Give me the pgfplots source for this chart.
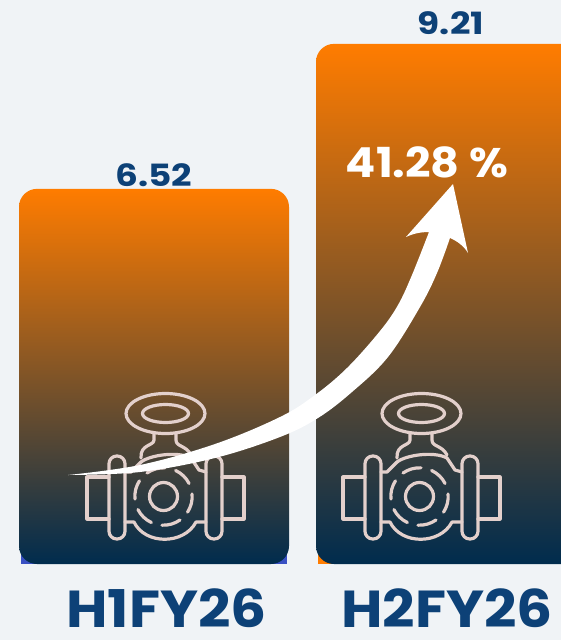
\documentclass[border=0pt]{standalone}
\usepackage{pgfplots}
\usepackage{fontspec}
\setmainfont{Poppins}
\pgfplotsset{compat=1.18}
\definecolor{bgc}{HTML}{F0F3F6}
\definecolor{navy}{HTML}{0D4177}
\definecolor{topc}{HTML}{FF7C00}
\definecolor{botc}{HTML}{002C4E}
\definecolor{icon}{HTML}{E3D0CC}
\pgfplotsset{gradbar/.style={ybar,bar width=202.5pt,draw=none,top color=topc,bottom color=botc,rounded corners=13.5pt,
  point meta=explicit,
  nodes near coords={\scalebox{1.17}[1]{\pgfmathprintnumber{\pgfplotspointmeta}}},
  nodes near coords style={text=navy,font=\bfseries\fontsize{23}{23}\selectfont,
    /pgf/number format/fixed,/pgf/number format/fixed zerofill,/pgf/number format/precision=2,
    /pgf/number format/assume math mode=true,anchor=south}}}
\begin{document}
\begin{tikzpicture}[x=0.75pt,y=-0.75pt]
\useasboundingbox (0,0) rectangle (561,640);
\fill[bgc] (0,0) rectangle (561,640);
\begin{axis}[
  at={(0,-480pt)},anchor=south west,
  scale only axis,width=420.75pt,height=480pt,
  xmin=0,xmax=561,ymin=-1.41,ymax=10.464,
  axis line style={draw=none},major tick length=0pt,
  ytick=\empty,
  xtick={166.5,447},xticklabels={\scalebox{1.09}[1]{H1FY26},\scalebox{1.09}[1]{H2FY26}},
  xticklabel style={anchor=base,yshift=9.5pt,inner sep=0pt,font=\bfseries\fontsize{39}{39}\selectfont,text=navy},
  clip=true,
  /pgf/number format/assume math mode=true,
]
\addplot[ybar,bar width=199.5pt,draw=none,fill=blue!45!navy!80!white,forget plot]
  table[x=x,y expr=\thisrow{v}-0.5]{x v
154 6.52
};
\addplot[ybar,bar width=199.5pt,draw=none,fill=topc,forget plot]
  table[x=x,y expr=\thisrow{v}-0.5]{x v
451 9.21
};
\addplot[gradbar,nodes near coords style={yshift=-2pt}]
  table[x=x,y expr=\thisrow{v}+0.44,meta=v]{x v
154 6.52
};
\addplot[gradbar,nodes near coords style={yshift=3.5pt}]
  table[x=x,y expr=\thisrow{v}+0.44,meta=v]{x v
451 9.21
};
\end{axis}
\foreach \dx in {0,256}{
\begin{scope}[xshift=\dx*0.75pt,draw=icon,line width=2.4pt,line join=round,line cap=round]
\draw (165.5,413.5) ellipse[x radius=39.5,y radius=20];
\draw (165.5,413.5) ellipse[x radius=23,y radius=9];
\draw (154,433) -- (154,440) .. controls (154,446) and (140,444) .. (141,458);
\draw (176,433) -- (176,440) .. controls (176,447) and (186,445) .. (191,455);
\draw (141,462) .. controls (150,455) and (178,451) .. (191,458) -- (199,470) -- (206,472);
\draw[rounded corners=5.8pt] (109,456) rectangle (125,539);
\draw[rounded corners=5.8pt] (206,456) rectangle (222,539);
\draw (109,477) -- (87,477) -- (87,519) -- (109,519);
\draw (222,477) -- (244,477) -- (244,519) -- (222,519);
\draw (125,522) -- (134,522) .. controls (145,545) and (184,545) .. (196,522) -- (206,522);
\draw (125,472) -- (131,472) -- (141,462);
\draw (163.5,496.5) circle[radius=14];
\foreach \a in {-5,55,115,175,235,295}
  \draw[line cap=round] ([shift={(\a:28.7)}]163.5,496.5) arc[start angle=\a,end angle=\a+38,radius=28.7];
\end{scope}}
\fill[white] plot[smooth,tension=.6] coordinates {(68,475) (140,465) (215,444) (280,417) (315,395) (347,368) (380,331) (398,305) (412,275) (429,232)}
  .. controls (420,232) and (412,234) .. (406,237) -- (453,184) -- (468,253)
  .. controls (464,246) and (457,241) .. (450,238)
  -- plot[smooth,tension=.6] coordinates {(450,238) (437,273) (420,307) (388,357) (352,392) (318,418) (280,437) (215,458) (140,472) (68,475)} -- cycle;
\node[text=white,font=\bfseries\fontsize{31}{31}\selectfont,anchor=base] at (427,177) {\scalebox{1.08}[1]{41.28 \%}};
\end{tikzpicture}
\end{document}
